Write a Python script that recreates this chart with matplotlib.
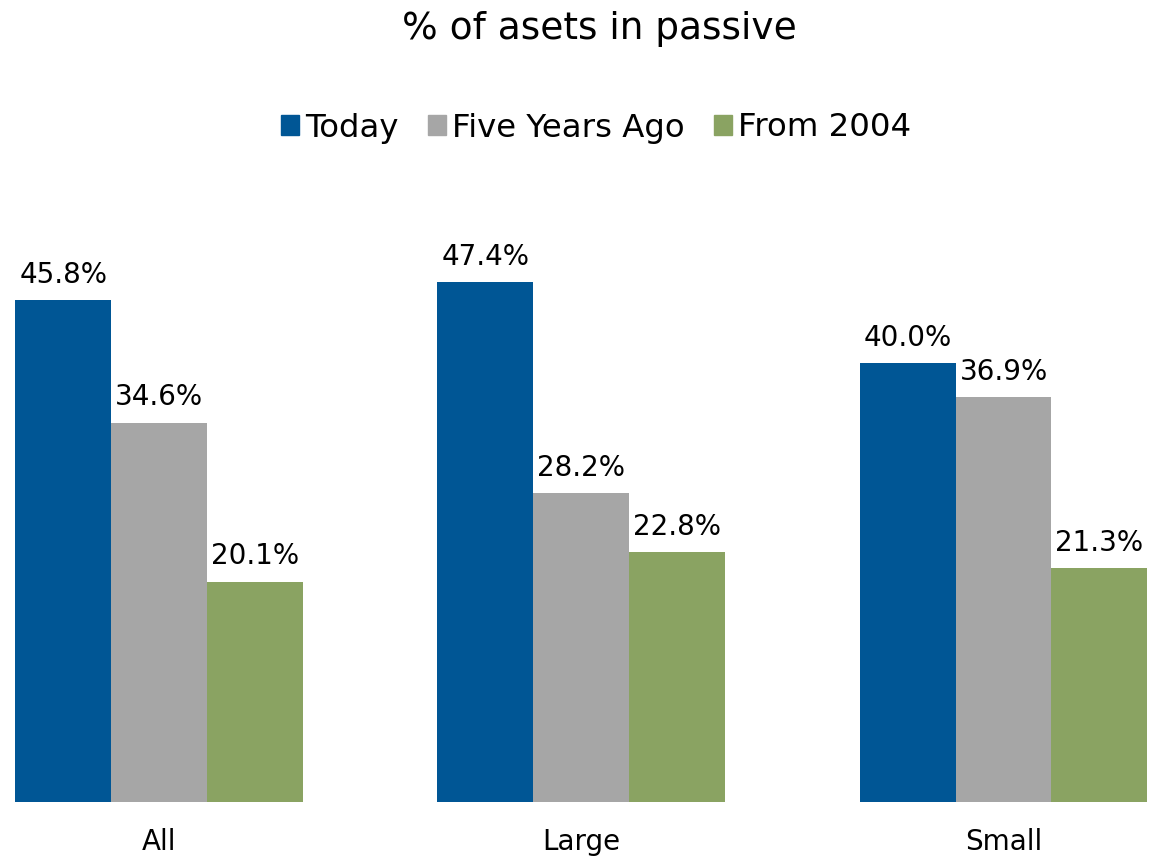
import matplotlib.pyplot as plt
import matplotlib.patches as mpatches
import numpy as np

categories = ["All", "Large", "Small"]
series = ["Today", "Five Years Ago", "From 2004"]
today = [45.8, 47.4, 40.0]
five_years = [34.6, 28.2, 36.9]
from_2004 = [20.1, 22.8, 21.3]
colors = ["#005695", "#a6a6a6", "#8aa362"]

fig = plt.figure(figsize=(11.49, 8.58), dpi=100)
ax = fig.add_axes([0, 56/858, 1, 658/858])

x = np.arange(len(categories))
w = 0.227
for i, (vals, col) in enumerate(zip([today, five_years, from_2004], colors)):
    bars = ax.bar(x + (i - 1) * w, vals, width=w, color=col, linewidth=0)
    for b, v in zip(bars, vals):
        ax.annotate("%.1f%%" % v, (b.get_x() + b.get_width()/2, v),
                    xytext=(0, 8), textcoords="offset points",
                    ha="center", va="bottom", fontsize=20)

ax.set_xlim(-159/422.25, 990/422.25)
ax.set_ylim(0, 60)
ax.set_xticks(x)
ax.set_xticklabels(categories, fontsize=20)
ax.tick_params(axis="x", length=0, pad=19)
ax.set_yticks([])
for s in ax.spines.values():
    s.set_visible(False)

fig.text(599/1149, 1 - 29/858, "% of asets in passive", ha="center", va="center", fontsize=27)

handles = [mpatches.Patch(color=c) for c in colors]
fig.legend(handles, series, loc="center", bbox_to_anchor=(596/1149, 1 - 128/858),
           ncol=3, frameon=False, fontsize=23.3, handlelength=0.55, handleheight=0.55,
           handletextpad=0.2, columnspacing=0.9)

fig.savefig("out.png", dpi=100)
